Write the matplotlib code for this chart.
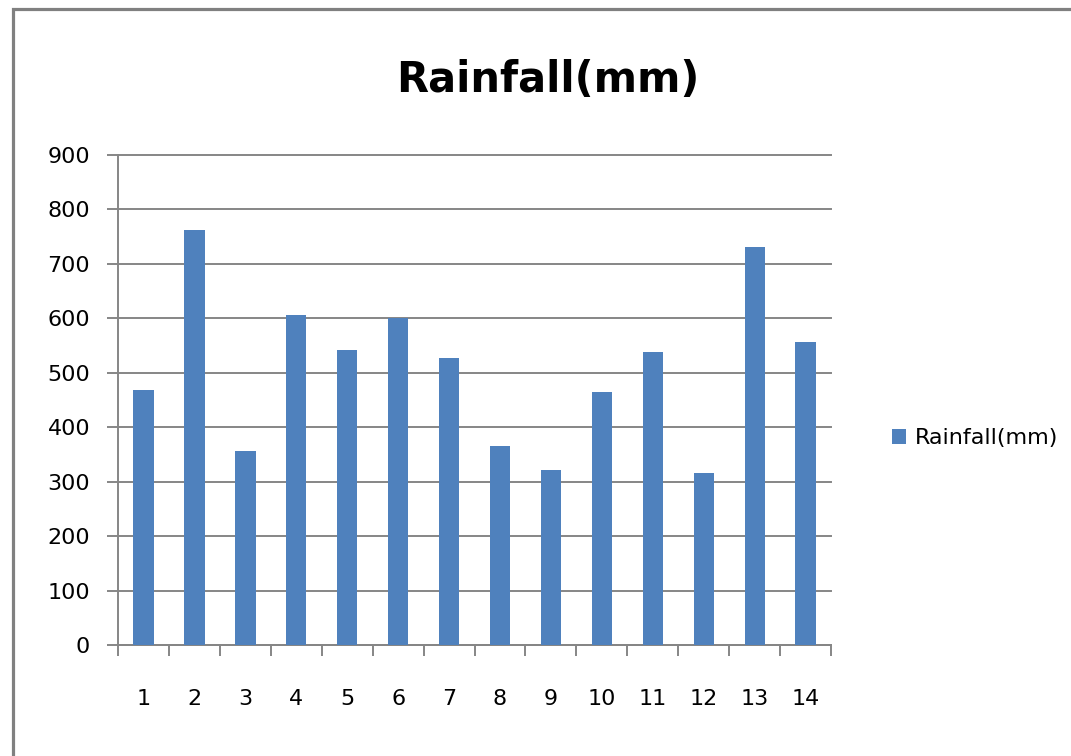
import matplotlib
matplotlib.use("Agg")
import matplotlib.pyplot as plt
from matplotlib.patches import Rectangle

# Data
stations = list(range(1, 15))
rainfall = [468, 762, 356, 606, 542, 600, 527, 366, 321, 465, 538, 316, 731, 557]
y_ticks = [0, 100, 200, 300, 400, 500, 600, 700, 800, 900]

bar_color = "#4F81BD"
axis_grey = "#868686"

fig = plt.figure(figsize=(10.71, 7.56), dpi=100)
ax = fig.add_axes([0.1102, 0.1468, 0.6658, 0.6482])

# Bars
ax.bar(stations, rainfall, width=0.4, color=bar_color, label="Rainfall(mm)", zorder=3)

# Axes limits and ticks
ax.set_xlim(0.5, 14.5)
ax.set_ylim(0, 900)
ax.set_yticks(y_ticks)
ax.set_xticks(stations)
ax.set_xticks([s + 0.5 for s in [0] + stations], minor=True)

# Gridlines and spines
ax.grid(axis="y", color=axis_grey, linewidth=1.4, zorder=0)
for line in ax.get_ygridlines():
    line.set_clip_on(False)
for side in ["top", "right"]:
    ax.spines[side].set_visible(False)
for side in ["left", "bottom"]:
    ax.spines[side].set_color(axis_grey)
    ax.spines[side].set_linewidth(1.4)

ax.tick_params(axis="y", direction="out", length=8, width=1.4, color=axis_grey,
               labelsize=16, pad=12)
ax.tick_params(axis="x", which="major", length=0, labelsize=16, pad=32)
ax.tick_params(axis="x", which="minor", direction="out", length=8, width=1.4,
               color=axis_grey)

# Title
fig.text(548 / 1071, 1 - 80 / 756, "Rainfall(mm)", ha="center", va="center",
         fontsize=30, fontweight="bold")

# Legend
ax.legend(loc="center left", bbox_to_anchor=(872 / 1071, 1 - 438 / 756),
          bbox_transform=fig.transFigure, frameon=False, fontsize=16,
          handlelength=0.65, handleheight=0.65, handletextpad=0.4)

# Outer chart frame (grey border on top and left)
fig.patches.append(Rectangle((12.5 / 1071, -0.05), 1.1, 1.05 - 8.5 / 756,
                             transform=fig.transFigure, fill=False,
                             edgecolor="#808080", linewidth=2.3))

fig.savefig("out.png", dpi=100)
